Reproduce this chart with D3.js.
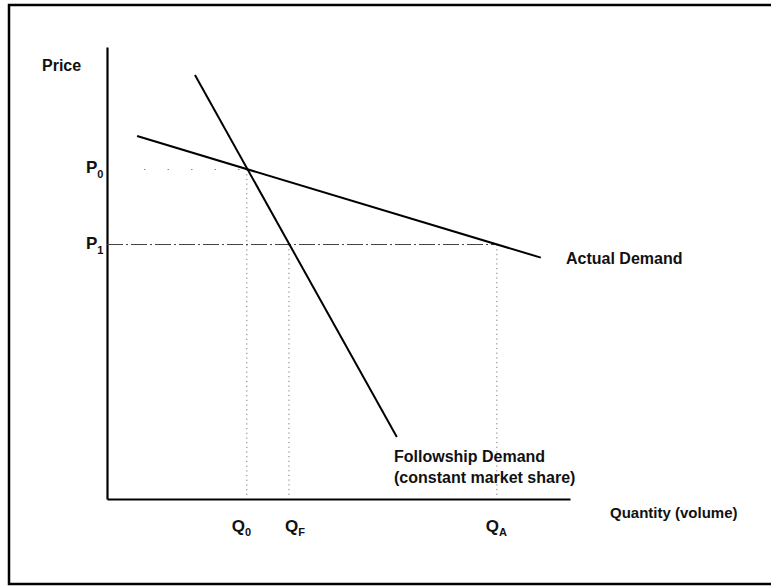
<!DOCTYPE html>
<html>
<head>
<meta charset="utf-8">
<script src="https://cdn.jsdelivr.net/npm/d3@7"></script>
<style>
  body { margin: 0; background: #fff; }
  text { font-family: "Liberation Sans", Arial, Helvetica, sans-serif; font-weight: bold; fill: #111; }
</style>
</head>
<body>
<div id="chart"></div>
<script>
// demand curves, in chart units (0-100 on both axes)
const actualDemand = [{q: 6.5, p: 80.3}, {q: 93.7, p: 53.4}];
const followDemand = [{q: 19.0, p: 93.8}, {q: 62.6, p: 13.7}];

// price and quantity levels
const priceLevels = [
  {name: "P", sub: "0", p: 72.9},
  {name: "P", sub: "1", p: 56.3}
];
const qtyLevels = [
  {name: "Q", sub: "0", q: 30.2, p: 72.9},
  {name: "Q", sub: "F", q: 39.3, p: 56.3},
  {name: "Q", sub: "A", q: 84.2, p: 56.3}
];

const width = 771, height = 587;

const svg = d3.select("#chart")
  .append("svg")
  .attr("width", width)
  .attr("height", height);

// frame
svg.append("rect")
  .attr("x", 9).attr("y", 5)
  .attr("width", 770).attr("height", 579)
  .attr("fill", "none")
  .attr("stroke", "#000")
  .attr("stroke-width", 2.5);

const x = d3.scaleLinear().domain([0, 100]).range([107, 570]);
const y = d3.scaleLinear().domain([0, 100]).range([499, 47]);

// axes without ticks
svg.append("g")
  .attr("transform", `translate(0,${y(0)})`)
  .call(d3.axisBottom(x).tickValues([]).tickSizeOuter(0))
  .select(".domain").attr("stroke-width", 2.2);

svg.append("g")
  .attr("transform", `translate(${x(0)},0)`)
  .call(d3.axisLeft(y).tickValues([]).tickSizeOuter(0))
  .select(".domain").attr("stroke-width", 2.2);

// guide lines
svg.append("line")
  .attr("x1", x(8)).attr("x2", x(qtyLevels[0].q))
  .attr("y1", y(priceLevels[0].p)).attr("y2", y(priceLevels[0].p))
  .attr("stroke", "#888").attr("stroke-width", 1.2)
  .attr("stroke-dasharray", "1.5,22");

svg.append("line")
  .attr("x1", x(0)).attr("x2", x(qtyLevels[2].q))
  .attr("y1", y(priceLevels[1].p)).attr("y2", y(priceLevels[1].p))
  .attr("stroke", "#444").attr("stroke-width", 1)
  .attr("stroke-dasharray", "16,3,2,3");

svg.selectAll(".vguide")
  .data(qtyLevels)
  .join("line")
  .attr("class", "vguide")
  .attr("x1", d => x(d.q)).attr("x2", d => x(d.q))
  .attr("y1", d => y(d.p)).attr("y2", y(0))
  .attr("stroke", "#777").attr("stroke-width", 1)
  .attr("stroke-dasharray", "1.2,3.5");

// demand curves
const line = d3.line().x(d => x(d.q)).y(d => y(d.p));
svg.selectAll(".curve")
  .data([actualDemand, followDemand])
  .join("path")
  .attr("class", "curve")
  .attr("d", line)
  .attr("fill", "none")
  .attr("stroke", "#000")
  .attr("stroke-width", 2);

// price labels
const pl = svg.selectAll(".plabel")
  .data(priceLevels)
  .join("text")
  .attr("class", "plabel")
  .attr("x", 86)
  .attr("y", d => y(d.p) + 4)
  .style("font-size", "17px");
pl.append("tspan").text(d => d.name);
pl.append("tspan").attr("dy", 5).style("font-size", "11px").text(d => d.sub);

// quantity labels
const qdx = [-15, -4, -11];
const ql = svg.selectAll(".qlabel")
  .data(qtyLevels)
  .join("text")
  .attr("class", "qlabel")
  .attr("x", (d, i) => x(d.q) + qdx[i])
  .attr("y", 532)
  .style("font-size", "17px");
ql.append("tspan").text(d => d.name);
ql.append("tspan").attr("dy", 4).style("font-size", "11px").text(d => d.sub);

// axis titles and curve labels
svg.append("text").attr("x", 42).attr("y", 71).style("font-size", "16px").text("Price");
svg.append("text").attr("x", 610).attr("y", 518).style("font-size", "15px").text("Quantity (volume)");
svg.append("text").attr("x", 566).attr("y", 264).style("font-size", "16px").text("Actual Demand");
svg.append("text").attr("x", 394).attr("y", 462).style("font-size", "16px").text("Followship Demand");
svg.append("text").attr("x", 394).attr("y", 483).style("font-size", "16px").text("(constant market share)");
</script>
</body>
</html>
